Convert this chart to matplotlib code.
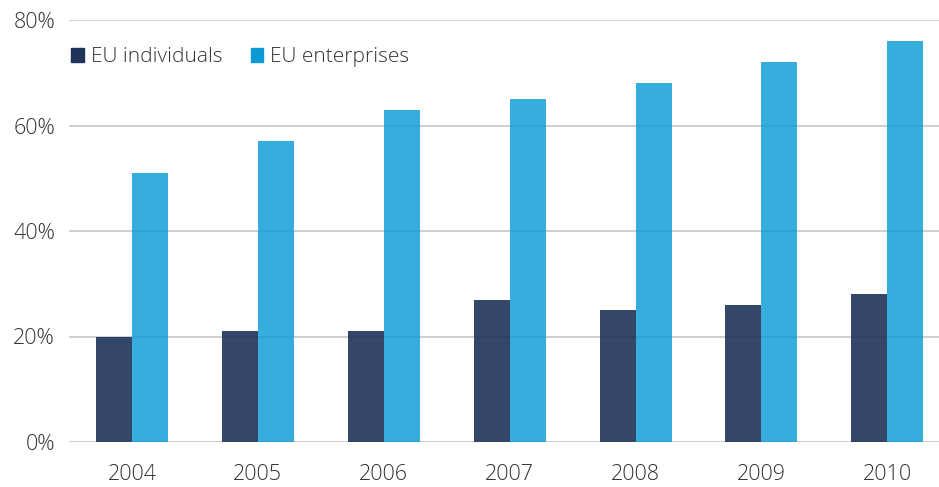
import matplotlib.pyplot as plt
import numpy as np
from matplotlib.patches import Patch

years = ["2004", "2005", "2006", "2007", "2008", "2009", "2010"]
individuals = [20, 21, 21, 27, 25, 26, 28]
enterprises = [51, 57, 63, 65, 68, 72, 76]

plt.rcParams['font.family'] = ['Open Sans', 'DejaVu Sans']
plt.rcParams['font.weight'] = 'light'

fig = plt.figure(figsize=(9.39, 4.87), dpi=100)
ax = fig.add_axes([69 / 939, 1 - 442 / 487, 1 - 69 / 939, 422 / 487])

x = np.arange(len(years))
w = 0.286
c_ind = '#1f3358'
c_ent = '#0a9bd6'
ax.bar(x - w / 2, individuals, w, color=c_ind, alpha=0.9, zorder=3)
ax.bar(x + w / 2, enterprises, w, color=c_ent, alpha=0.82, zorder=3)

ax.set_xlim(-0.5, 6.41)
ax.set_ylim(0, 80)
ax.set_yticks([0, 20, 40, 60, 80])
ax.set_yticklabels([f"{v}%" for v in [0, 20, 40, 60, 80]])
ax.set_xticks(x)
ax.set_xticklabels(years)
ax.grid(axis='y', color='#cccccc', linewidth=1.3, zorder=0)
ax.tick_params(length=0, labelsize=15.5, colors='#333333', pad=10)
ax.tick_params(axis='x', pad=16)
for s in ax.spines.values():
    s.set_visible(False)

handles = [Patch(color=c_ind, label='EU individuals'),
           Patch(color=c_ent, label='EU enterprises')]
ax.legend(handles=handles, loc='upper left', bbox_to_anchor=(0.0, 0.94), ncol=2,
          frameon=False, fontsize=15, handlelength=0.6, handleheight=0.6,
          handletextpad=0.35, columnspacing=1.35, labelcolor='#333333', borderaxespad=0,
          borderpad=0.1)

fig.savefig('out.png', dpi=100)
